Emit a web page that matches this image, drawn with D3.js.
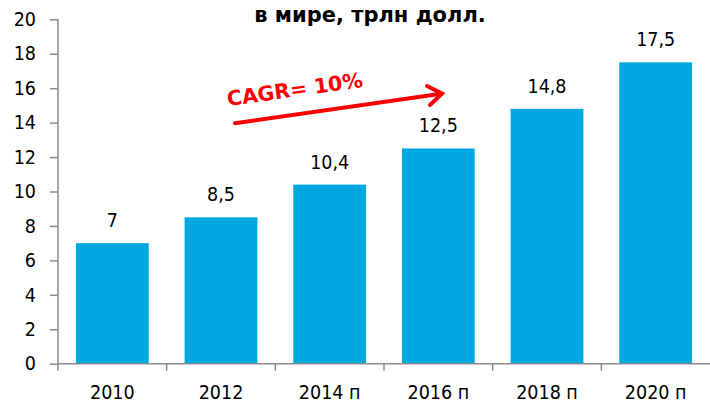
<!DOCTYPE html>
<html>
<head>
<meta charset="utf-8">
<script src="https://cdn.jsdelivr.net/npm/d3@7"></script>
<style>
  body { margin: 0; background: #fff; }
  svg { display: block; }
  text { font-family: "DejaVu Sans Condensed", "DejaVu Sans", sans-serif; }
</style>
</head>
<body>
<svg class="svgMain" width="710" height="404"></svg>
<script>
// Chart values.
const years = ["2010", "2012", "2014 п", "2016 п", "2018 п", "2020 п"];
const volumes = [7, 8.5, 10.4, 12.5, 14.8, 17.5];
const volumeLabels = ["7", "8,5", "10,4", "12,5", "14,8", "17,5"];
const yTicks = [0, 2, 4, 6, 8, 10, 12, 14, 16, 18, 20];
const titleText = "в мире, трлн долл.";
const cagrText = "CAGR= 10%";

const svgMain = d3.select(".svgMain");
const labelFont = "'DejaVu Sans Condensed', 'DejaVu Sans', sans-serif";

// Scales.
let x = d3.scaleBand().domain(years).range([58, 710]).paddingInner(0.33).paddingOuter(0.165);
let y = d3.scaleLinear().domain([0, 20]).range([363.7, 19.3]);

// Bars.
svgMain.selectAll(".bar")
    .data(years)
    .enter().append("rect")
    .attr("class", "bar")
    .attr("x", d => x(d)).attr("width", x.bandwidth())
    .attr("y", (d, i) => y(volumes[i]))
    .attr("height", (d, i) => y(0) - y(volumes[i]))
    .attr("fill", "#00a8e2");

// Value labels above bars.
svgMain.selectAll(".valueLabel")
    .data(years)
    .enter().append("text")
    .attr("class", "valueLabel")
    .text((d, i) => volumeLabels[i])
    .attr("x", d => x(d) + x.bandwidth() / 2)
    .attr("y", (d, i) => y(volumes[i]) - 16)
    .attr("text-anchor", "middle")
    .attr("font-size", "19.5px").attr("fill", "#000");

// Y axis.
let yAxis = svgMain.append("g")
    .attr("transform", "translate(58,0)")
    .call(d3.axisLeft(y).tickValues(yTicks).tickSize(8).tickPadding(14).tickFormat(d3.format("d")));
yAxis.selectAll("text").attr("font-size", "19.5px").attr("fill", "#000").style("font-family", labelFont);
yAxis.selectAll("line").attr("stroke", "#8c8c8c").attr("stroke-width", 1.5);
yAxis.select(".domain").attr("stroke", "#8c8c8c").attr("stroke-width", 1.5).attr("d", "M0," + y(20) + "V" + y(0));

// X axis: labels under each bar, ticks at category boundaries.
let xAxis = svgMain.append("g")
    .attr("transform", "translate(0," + y(0) + ")")
    .call(d3.axisBottom(x).tickSize(0).tickPadding(21));
xAxis.selectAll("text").attr("font-size", "19.5px").attr("fill", "#000").style("font-family", labelFont);
xAxis.select(".domain").attr("stroke", "#8c8c8c").attr("stroke-width", 1.5).attr("d", "M58,0H710");
let bounds = years.map(d => x(d) + x.bandwidth() / 2 - x.step() / 2);
xAxis.selectAll(".sep")
    .data(bounds)
    .enter().append("line")
    .attr("class", "sep")
    .attr("x1", d => d).attr("x2", d => d)
    .attr("y1", 0).attr("y2", 7)
    .attr("stroke", "#8c8c8c").attr("stroke-width", 1.5);

// Title (second line, first is cut off above).
svgMain.append("text")
    .text(titleText)
    .attr("x", 370).attr("y", 22)
    .attr("text-anchor", "middle")
    .attr("font-size", "21px").attr("font-weight", "bold")
    .style("font-family", "'DejaVu Sans', Verdana, sans-serif");

// CAGR arrow and label.
const red = "#ff0000";
svgMain.append("line")
    .attr("x1", 235).attr("y1", 123.3).attr("x2", 441).attr("y2", 93.8)
    .attr("stroke", red).attr("stroke-width", 4).attr("stroke-linecap", "round");
svgMain.append("polyline")
    .attr("points", "427,86 442,93.6 430,105")
    .attr("fill", "none").attr("stroke", red).attr("stroke-width", 4)
    .attr("stroke-linecap", "round").attr("stroke-linejoin", "miter");
svgMain.append("text")
    .text(cagrText)
    .attr("transform", "translate(228,106) rotate(-8)")
    .attr("font-size", "20.5px").attr("font-weight", "bold").attr("fill", red)
    .style("font-family", "'DejaVu Sans', Verdana, sans-serif");
</script>
</body>
</html>
